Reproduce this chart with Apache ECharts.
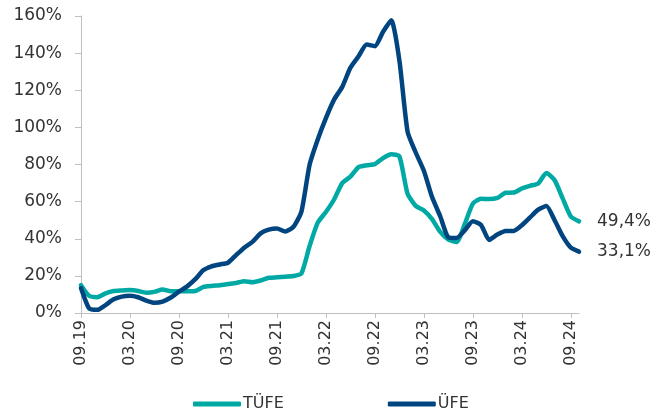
<!DOCTYPE html>
<html>
<head>
<meta charset="utf-8">
<script src="https://cdn.jsdelivr.net/npm/echarts@6/dist/echarts.min.js"></script>
<style>
html,body{margin:0;padding:0;background:#fff;}
#c{width:660px;height:412px;}
</style>
</head>
<body>
<div id="c"></div>
<script>
var categories = ["09.19","10.19","11.19","12.19","01.20","02.20","03.20","04.20","05.20","06.20","07.20","08.20",
"09.20","10.20","11.20","12.20","01.21","02.21","03.21","04.21","05.21","06.21","07.21","08.21",
"09.21","10.21","11.21","12.21","01.22","02.22","03.22","04.22","05.22","06.22","07.22","08.22",
"09.22","10.22","11.22","12.22","01.23","02.23","03.23","04.23","05.23","06.23","07.23","08.23",
"09.23","10.23","11.23","12.23","01.24","02.24","03.24","04.24","05.24","06.24","07.24","08.24",
"09.24","10.24"];
var tufe = [15.01, 9.26, 8.55, 10.56, 11.84, 12.15, 12.37, 11.86, 10.94, 11.39, 12.62, 11.76,
11.77, 11.75, 11.89, 14.03, 14.60, 14.97, 15.61, 16.19, 17.14, 16.59, 17.53, 18.95,
19.25, 19.58, 19.89, 21.31, 36.08, 48.69, 54.44, 61.14, 69.97, 73.50, 78.62, 79.60,
80.21, 83.45, 85.51, 84.39, 64.27, 57.68, 55.18, 50.51, 43.68, 39.59, 38.21, 47.83,
58.94, 61.53, 61.36, 61.98, 64.77, 64.86, 67.07, 68.50, 69.80, 75.45, 71.60, 61.78,
51.97, 49.38];
var ufe = [13.45, 2.45, 1.70, 4.26, 7.36, 8.84, 9.26, 8.50, 6.71, 5.53, 6.17, 8.33,
11.53, 14.33, 18.20, 23.11, 25.15, 26.16, 27.09, 31.20, 35.17, 38.33, 42.89, 44.92,
45.52, 43.96, 46.31, 54.62, 79.89, 93.53, 105.01, 114.97, 121.82, 132.16, 138.31, 144.61,
143.75, 151.50, 157.69, 136.02, 97.72, 86.46, 76.61, 62.43, 52.11, 40.76, 40.42, 44.50,
49.41, 47.44, 39.39, 42.25, 44.22, 44.20, 47.29, 51.47, 55.66, 57.68, 50.09, 41.37,
35.17, 33.09];
var seriesNames = ["TÜFE", "ÜFE"];
var endLabels = ["49,4%", "33,1%"];

var FONT = "DejaVu Sans";
var TXT = "#333333";
var AX = "#BFBFBF";
var chart = echarts.init(document.getElementById('c'), null, {renderer: 'canvas'});
chart.setOption({
  animation: false,
  backgroundColor: '#ffffff',
  grid: {left: 81, right: 81, top: 16, bottom: 99, containLabel: false},
  xAxis: {
    type: 'category',
    data: categories,
    boundaryGap: false,
    axisLine: {lineStyle: {color: AX, width: 1}},
    axisTick: {show: true, interval: 5, length: 5, lineStyle: {color: AX}},
    axisLabel: {interval: 5, rotate: 90, margin: 7, fontFamily: FONT, fontSize: 16, color: TXT},
    splitLine: {show: false}
  },
  yAxis: {
    type: 'value',
    min: 0, max: 160, interval: 20,
    axisLine: {show: true, lineStyle: {color: AX, width: 1}},
    axisTick: {show: true, length: 6, lineStyle: {color: AX}},
    axisLabel: {formatter: '{value}%', margin: 19, fontFamily: FONT, fontSize: 17, color: TXT},
    splitLine: {show: false}
  },
  legend: {
    top: 396,
    left: 193,
    padding: 0,
    itemWidth: 48,
    itemHeight: 5,
    itemGap: 104,
    icon: 'roundRect',
    textStyle: {fontFamily: FONT, fontSize: 16, color: TXT, padding: [0,0,0,-3]},
    data: seriesNames
  },
  series: [
    {
      name: seriesNames[0], type: 'line', data: tufe, symbol: 'none', smooth: 0.2,
      lineStyle: {color: '#00A9A4', width: 4.5, cap: 'round', join: 'round'},
      itemStyle: {color: '#00A9A4'},
      endLabel: {show: true, formatter: endLabels[0], distance: 18, fontFamily: FONT, fontSize: 17, color: TXT}
    },
    {
      name: seriesNames[1], type: 'line', data: ufe, symbol: 'none', smooth: 0.2,
      lineStyle: {color: '#00457F', width: 4.5, cap: 'round', join: 'round'},
      itemStyle: {color: '#00457F'},
      endLabel: {show: true, formatter: endLabels[1], distance: 18, fontFamily: FONT, fontSize: 17, color: TXT}
    }
  ]
});
</script>
</body>
</html>
